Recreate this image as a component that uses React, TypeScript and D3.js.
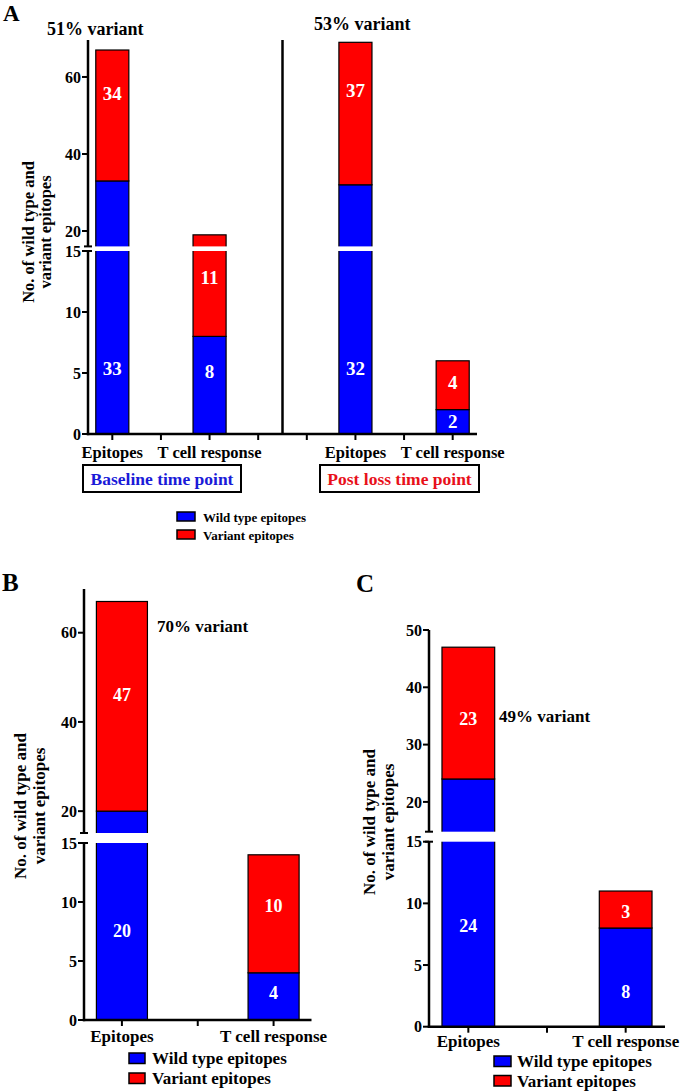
import React from "react";
import * as d3 from "d3";

// ---------- data ----------
const categoriesA = ["Epitopes", "T cell response", "Epitopes", "T cell response"];
const wildTypeA = [33, 8, 32, 2];
const variantA = [34, 11, 37, 4];
const categoriesB = ["Epitopes", "T cell response"];
const wildTypeB = [20, 4];
const variantB = [47, 10];
const categoriesC = ["Epitopes", "T cell response"];
const wildTypeC = [24, 8];
const variantC = [23, 3];
const upperTicksA = [20, 40, 60];
const upperTicksB = [20, 40, 60];
const upperTicksC = [20, 30, 40, 50];
const lowerTicks = [0, 5, 10, 15];
const variantNotesA = ["51% variant", "53% variant"];
const variantNoteB = "70% variant";
const variantNoteC = "49% variant";
const timePoints = ["Baseline time point", "Post loss time point"];
const legendLabels = ["Wild type epitopes", "Variant epitopes"];
const yTitle = ["No. of wild type and", "variant epitopes"];

// ---------- style ----------
const FONT = "Liberation Serif, Times New Roman, DejaVu Serif, serif";
const BLUE = "#0000ff";
const RED = "#ff0000";
const txt = (size: number, extra: any = {}) => ({
  style: { fontFamily: FONT, fontWeight: 700, fontSize: `${size}px` },
  ...extra,
});

type PanelProps = {
  cats: string[];
  wild: number[];
  variant: number[];
  slotCount: number;
  catSlots: number[];
  xRange: [number, number];
  pad: number;
  lowerRange: [number, number];
  upperDomain: [number, number];
  upperRange: [number, number];
  upperTicks: number[];
  wildLabelAt: number[];
  variantLabelAt: number[];
  tickFont: number;
  catFont: number;
  valueFont: number;
  catBaseline: number;
};

function Panel(p: PanelProps) {
  const x = d3
    .scaleBand<number>()
    .domain(d3.range(p.slotCount))
    .range(p.xRange)
    .paddingInner(p.pad)
    .paddingOuter(p.pad / 2);
  const yL = d3.scaleLinear().domain([0, 15]).range(p.lowerRange);
  const yU = d3.scaleLinear().domain(p.upperDomain).range(p.upperRange);
  const lo = p.upperDomain[0];
  const yv = (v: number) => (v <= 15 ? yL(v) : yU(Math.max(v, lo)));

  const rows = p.cats.map((c, i) => ({ idx: i, wild: p.wild[i], variant: p.variant[i] }));
  const stack = d3.stack<any>().keys(["wild", "variant"])(rows);
  const colors = [BLUE, RED];
  const ax = p.xRange[0];
  const y0 = yL(0);
  const bw = x.bandwidth();

  return (
    <g>
      {stack.map((series, si) =>
        series.map((d, i) => {
          const bx = x(p.catSlots[i]) as number;
          return (
            <rect
              key={`b${si}-${i}`}
              x={bx}
              y={yv(d[1])}
              width={bw}
              height={yv(d[0]) - yv(d[1])}
              fill={colors[si]}
              stroke="#000"
              strokeWidth={1.2}
            />
          );
        })
      )}
      {rows.map((r, i) =>
        r.wild + r.variant > 15 ? (
          <rect
            key={`g${i}`}
            x={(x(p.catSlots[i]) as number) - 2}
            y={yU(lo)}
            width={bw + 4}
            height={yL(15) - yU(lo)}
            fill="#fff"
          />
        ) : null
      )}
      {rows.map((r, i) => {
        const cx = (x(p.catSlots[i]) as number) + bw / 2;
        return (
          <g key={`v${i}`} fill="#fff" textAnchor="middle">
            <text {...txt(p.valueFont)} x={cx} y={yv(p.wildLabelAt[i])} dy="0.35em">{r.wild}</text>
            <text {...txt(p.valueFont)} x={cx} y={yv(p.variantLabelAt[i])} dy="0.35em">{r.variant}</text>
          </g>
        );
      })}
      <g stroke="#000" strokeWidth={2.5}>
        <line x1={ax} x2={ax} y1={y0 + 1.2} y2={yL(15)} />
        <line x1={ax} x2={ax} y1={yU(lo)} y2={p.upperRange[1]} />
        <line x1={ax - 4} x2={ax + 4} y1={yU(lo)} y2={yU(lo)} strokeWidth={2} />
        <line x1={ax - 4} x2={ax + 4} y1={yL(15)} y2={yL(15)} strokeWidth={2} />
        {lowerTicks.map((t) => (
          <line key={`lt${t}`} x1={ax - 6} x2={ax} y1={yL(t)} y2={yL(t)} strokeWidth={2} />
        ))}
        {p.upperTicks.map((t) => (
          <line key={`ut${t}`} x1={ax - 6} x2={ax} y1={yU(t)} y2={yU(t)} strokeWidth={2} />
        ))}
      </g>
      <g textAnchor="end">
        {lowerTicks.map((t) => (
          <text key={`ll${t}`} {...txt(p.tickFont)} x={ax - 7} y={yL(t)} dy="0.35em">{t}</text>
        ))}
        {p.upperTicks.map((t) => (
          <text key={`ul${t}`} {...txt(p.tickFont)} x={ax - 7} y={yU(t)} dy="0.35em">{t}</text>
        ))}
      </g>
      <g stroke="#000" strokeWidth={2.5}>
        <line x1={ax - 1.2} x2={p.xRange[1]} y1={y0} y2={y0} />
        {d3.range(p.slotCount).map((s) => {
          const cx = (x(s) as number) + bw / 2;
          return <line key={`xt${s}`} x1={cx} x2={cx} y1={y0} y2={y0 + 6} strokeWidth={2} />;
        })}
      </g>
      <g textAnchor="middle">
        {p.cats.map((c, i) => (
          <text key={`xl${i}`} {...txt(p.catFont)} x={(x(p.catSlots[i]) as number) + bw / 2} y={p.catBaseline}>{c}</text>
        ))}
      </g>
    </g>
  );
}

function YTitle({ cx, cy, font, gap }: { cx: number; cy: number; font: number; gap: number }) {
  return (
    <g textAnchor="middle">
      <text {...txt(font)} transform={`translate(${cx},${cy}) rotate(-90)`}>{yTitle[0]}</text>
      <text {...txt(font)} transform={`translate(${cx + gap},${cy}) rotate(-90)`}>{yTitle[1]}</text>
    </g>
  );
}

function Legend({ x, y, sw, sh, font, rowGap, textDx }: { x: number; y: number; sw: number; sh: number; font: number; rowGap: number; textDx: number }) {
  const cols = [BLUE, RED];
  return (
    <g>
      {legendLabels.map((l, i) => (
        <g key={l}>
          <rect x={x} y={y + i * rowGap} width={sw} height={sh} fill={cols[i]} stroke="#000" strokeWidth={1.5} />
          <text {...txt(font)} x={x + textDx} y={y + i * rowGap + sh} dy="0.05em">{l}</text>
        </g>
      ))}
    </g>
  );
}

export default function App() {
  return (
    <svg
      width={680}
      height={1091}
      style={{ position: "absolute", left: 0, top: 0, background: "#fff" }}
    >
      <rect width={680} height={1091} fill="#fff" />
      {/* ---------- Panel A ---------- */}
      <text {...txt(23)} x={3} y={21}>A</text>
      <Panel
        cats={categoriesA}
        wild={wildTypeA}
        variant={variantA}
        slotCount={8}
        catSlots={[0, 2, 5, 7]}
        xRange={[88, 477]}
        pad={0.32}
        lowerRange={[434, 251]}
        upperDomain={[16, 69.6]}
        upperRange={[246.4, 40]}
        upperTicks={upperTicksA}
        wildLabelAt={[5.4, 5.1, 5.4, 1.0]}
        variantLabelAt={[55.8, 12.8, 56.4, 4.2]}
        tickFont={16}
        catFont={16.5}
        valueFont={19}
        catBaseline={458}
      />
      <line x1={282.5} x2={282.5} y1={40} y2={434} stroke="#000" strokeWidth={2.5} />
      <text {...txt(18)} x={47} y={35}>{variantNotesA[0]}</text>
      <text {...txt(18)} x={314} y={30}>{variantNotesA[1]}</text>
      <YTitle cx={34} cy={232} font={16.5} gap={16.5} />
      <g textAnchor="middle">
        <rect x={83} y={465} width={158} height={27} fill="none" stroke="#000" strokeWidth={2} />
        <text {...txt(17.5)} x={162} y={485} fill="#1a1ad8">{timePoints[0]}</text>
        <rect x={320} y={465} width={159} height={27} fill="none" stroke="#000" strokeWidth={2} />
        <text {...txt(17.5)} x={399.5} y={485} fill="#e8101a">{timePoints[1]}</text>
      </g>
      <Legend x={177} y={512} sw={18} sh={9} font={13} rowGap={18} textDx={26} />

      {/* ---------- Panel B ---------- */}
      <text {...txt(25)} x={2} y={591}>B</text>
      <Panel
        cats={categoriesB}
        wild={wildTypeB}
        variant={variantB}
        slotCount={3}
        catSlots={[0, 2]}
        xRange={[84, 311.5]}
        pad={0.327}
        lowerRange={[1020, 843]}
        upperDomain={[15.1, 69.8]}
        upperRange={[833, 589]}
        upperTicks={upperTicksB}
        wildLabelAt={[7.6, 2.3]}
        variantLabelAt={[46.0, 9.7]}
        tickFont={16}
        catFont={17}
        valueFont={18}
        catBaseline={1042}
      />
      <text {...txt(17)} x={157} y={632}>{variantNoteB}</text>
      <YTitle cx={26} cy={806} font={17} gap={18.5} />
      <Legend x={129} y={1053} sw={16} sh={10.5} font={17} rowGap={20} textDx={23} />

      {/* ---------- Panel C ---------- */}
      <text {...txt(25)} x={356} y={592}>C</text>
      <Panel
        cats={categoriesC}
        wild={wildTypeC}
        variant={variantC}
        slotCount={3}
        catSlots={[0, 2]}
        xRange={[429, 665]}
        pad={0.33}
        lowerRange={[1026.7, 841.7]}
        upperDomain={[14.8, 50]}
        upperRange={[831.7, 630]}
        upperTicks={upperTicksC}
        wildLabelAt={[8.2, 2.8]}
        variantLabelAt={[34.6, 9.3]}
        tickFont={16}
        catFont={17}
        valueFont={18}
        catBaseline={1047}
      />
      <text {...txt(17)} x={499} y={722}>{variantNoteC}</text>
      <YTitle cx={375} cy={822} font={17} gap={18.5} />
      <Legend x={494} y={1056} sw={17} sh={10.5} font={17} rowGap={19.5} textDx={23} />
    </svg>
  );
}
